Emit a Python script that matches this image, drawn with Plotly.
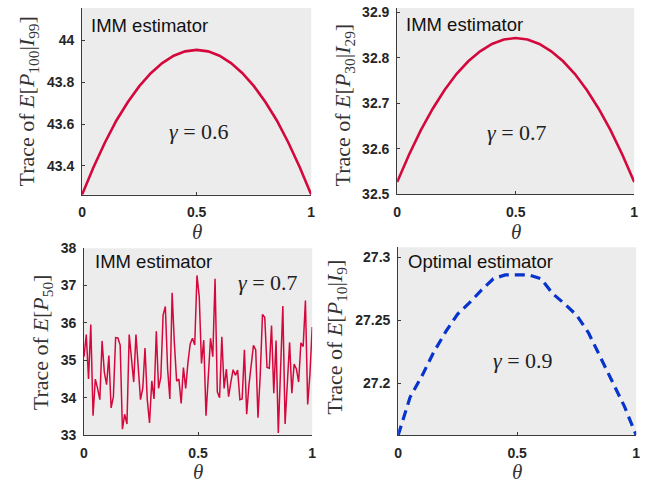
import numpy as np
import plotly.graph_objects as go

W, H = 657, 487

# ---- data ----
theta_smooth = [0.0, 0.05, 0.1, 0.15, 0.2, 0.25, 0.3, 0.35, 0.4, 0.45, 0.5,
                0.55, 0.6, 0.65, 0.7, 0.75, 0.8, 0.85, 0.9, 0.95, 1.0]

# IMM estimator, gamma = 0.6, trace of E[P100|I99]
trace_p100 = [43.263, 43.394, 43.512, 43.617, 43.705, 43.781, 43.843, 43.891,
              43.926, 43.947, 43.954, 43.947, 43.926, 43.891, 43.843, 43.781,
              43.705, 43.617, 43.512, 43.394, 43.263]

# IMM estimator, gamma = 0.7, trace of E[P30|I29]
trace_p30 = [32.527, 32.587, 32.641, 32.688, 32.729, 32.764, 32.792, 32.814,
             32.830, 32.840, 32.843, 32.840, 32.830, 32.814, 32.792, 32.764,
             32.729, 32.688, 32.641, 32.587, 32.527]

# IMM estimator, gamma = 0.7, trace of E[P50] (Monte Carlo)
trace_p50 = [35.10, 35.69, 34.50, 35.96, 33.52, 34.50, 34.25, 33.95, 35.52, 34.68,
             34.35, 35.13, 33.73, 34.03, 35.61, 35.60, 35.41, 33.16, 33.56, 33.30,
             35.69, 34.94, 34.42, 35.69, 34.94, 33.95, 34.25, 35.33, 33.95, 33.33,
             34.45, 33.97, 35.78, 34.25, 34.55, 36.21, 36.44, 34.77, 33.97, 36.81,
             35.46, 34.44, 34.50, 33.85, 34.81, 34.25, 34.94, 35.44, 35.59, 35.41,
             37.27, 36.71, 34.92, 35.54, 33.52, 34.50, 35.59, 35.10, 37.18, 34.16,
             34.00, 35.63, 34.25, 34.77, 34.03, 34.42, 34.75, 34.60, 34.74, 33.95,
             33.97, 35.28, 33.56, 34.34, 34.90, 35.40, 35.28, 33.47, 34.60, 36.23,
             36.15, 34.81, 34.79, 35.93, 34.12, 35.53, 33.06, 34.60, 36.45, 33.30,
             34.50, 35.48, 34.12, 34.90, 34.77, 34.42, 35.47, 35.37, 36.60, 33.82,
             34.64, 35.89]
theta_p50 = np.linspace(0, 1, len(trace_p50))

# Optimal estimator, gamma = 0.9, trace of E[P10|I9]
trace_p10 = [27.159, 27.189, 27.206, 27.225, 27.241, 27.255, 27.264, 27.274,
             27.283, 27.286, 27.286, 27.286, 27.283, 27.271, 27.263, 27.254,
             27.240, 27.221, 27.201, 27.182, 27.159]

x_ticks = [0, 0.5, 1]
x_ticklabels = ["0", "0.5", "1"]

RED = "#d4083c"
BLUE = "#0634cc"
BG = "#ececec"
AX = "#3a3a3a"
SANS = "Liberation Sans, Arial, sans-serif"
SERIF = "Liberation Serif, Times New Roman, serif"
GREEK = "<i>γ</i>"


def px(x):
    return x / W


def py(y):
    return 1 - y / H


fig = go.Figure()

panels = [
    # (axis suffix, x domain px, y domain px, y range, y ticks, y labels)
    ("", (79, 311), (0, 193), [43.263, 44.154],
     [43.4, 43.6, 43.8, 44], ["43.4", "43.6", "43.8", "44"]),
    ("2", (398, 638), (0, 192.7), [32.5, 32.909],
     [32.5, 32.6, 32.7, 32.8, 32.9], ["32.5", "32.6", "32.7", "32.8", "32.9"]),
    ("3", (81, 312), (248.3, 441.7), [33, 38],
     [33, 34, 35, 36, 37, 38], ["33", "34", "35", "36", "37", "38"]),
    ("4", (399, 640), (247.3, 441.7), [27.159, 27.308],
     [27.2, 27.25, 27.3], ["27.2", "27.25", "27.3"]),
]

series = [
    (theta_smooth, trace_p100, dict(color=RED, width=2.6)),
    (theta_smooth, trace_p30, dict(color=RED, width=2.6)),
    (theta_p50, trace_p50, dict(color=RED, width=1.5)),
    (theta_smooth, trace_p10, dict(color=BLUE, width=3.2, dash="10px,6px")),
]

layout_axes = {}
for (suf, (x0, x1), (ytop, ybot), yr, yt, yl), (xs, ys, ln) in zip(panels, series):
    fig.add_trace(go.Scatter(x=xs, y=ys, mode="lines", line=ln,
                             xaxis="x" + suf, yaxis="y" + suf,
                             showlegend=False, hoverinfo="skip"))
    tickfont = dict(family=SANS, size=14, color="#262626", weight="bold")
    layout_axes["xaxis" + suf] = dict(
        domain=[px(x0), px(x1)], range=[0, 1], anchor="y" + suf,
        tickvals=x_ticks, ticktext=x_ticklabels, ticks="inside", ticklen=3,
        tickcolor=AX, showline=True, linecolor=AX, linewidth=1,
        showgrid=False, zeroline=False, tickfont=tickfont, ticklabelstandoff=5)
    layout_axes["yaxis" + suf] = dict(
        domain=[py(ybot), py(ytop)], range=yr, anchor="x" + suf,
        tickvals=yt, ticktext=yl, ticks="inside", ticklen=3,
        tickcolor=AX, showline=True, linecolor=AX, linewidth=1,
        showgrid=False, zeroline=False, tickfont=tickfont, ticklabelstandoff=4)

fig.update_layout(**layout_axes)

# grey plotting areas
shapes = []
for suf, (x0, x1), (ytop, ybot), yr, yt, yl in panels:
    shapes.append(dict(type="rect", xref="paper", yref="paper",
                       x0=px(x0), x1=px(x1), y0=py(ybot), y1=py(ytop),
                       fillcolor=BG, line=dict(width=0), layer="below"))

annotations = []


def text(x, y, s, font, angle=0, xanchor="center", yanchor="middle"):
    annotations.append(dict(x=px(x), y=py(y), xref="paper", yref="paper",
                            text=s, showarrow=False, font=font,
                            textangle=angle, xanchor=xanchor, yanchor=yanchor))


label_font = dict(family=SANS, size=18.5, color="#111111")
gamma_font = dict(family=SERIF, size=22, color="#222222")
title_font = dict(family=SERIF, size=22, color="#333333")
theta_font = dict(family=SERIF, size=21, color="#333333")

# panel captions
text(86, 18, "IMM estimator", label_font, xanchor="left")
text(405, 17, "IMM estimator", label_font, xanchor="left")
text(90, 262, "IMM estimator", label_font, xanchor="left")
text(407, 262, "Optimal estimator", label_font, xanchor="left")

# gamma values
text(197, 128, GREEK + " = 0.6", gamma_font)
text(519, 129, GREEK + " = 0.7", gamma_font)
text(267, 284, GREEK + " = 0.7", gamma_font)
text(525, 364, GREEK + " = 0.9", gamma_font)

# y-axis titles
text(24, 97, "Trace of <i>E</i>[<i>P</i><sub>100</sub>|<i>I</i><sub>99</sub>]", title_font, angle=-90)
text(344, 100, "Trace of <i>E</i>[<i>P</i><sub>30</sub>|<i>I</i><sub>29</sub>]", title_font, angle=-90)
text(38, 346, "Trace of <i>E</i>[<i>P</i><sub>50</sub>]", title_font, angle=-90)
text(336, 340, "Trace of <i>E</i>[<i>P</i><sub>10</sub>|<i>I</i><sub>9</sub>]", title_font, angle=-90)

# x-axis titles
text(195, 217, "<i>θ</i>", theta_font, yanchor="top")
text(518, 217, "<i>θ</i>", theta_font, yanchor="top")
text(196, 465, "<i>θ</i>", theta_font, yanchor="top")
text(519, 465, "<i>θ</i>", theta_font, yanchor="top")

fig.update_layout(
    width=W, height=H,
    margin=dict(l=0, r=0, t=0, b=0),
    paper_bgcolor="white", plot_bgcolor="rgba(0,0,0,0)",
    shapes=shapes, annotations=annotations,
)

fig.write_html("out.html")
